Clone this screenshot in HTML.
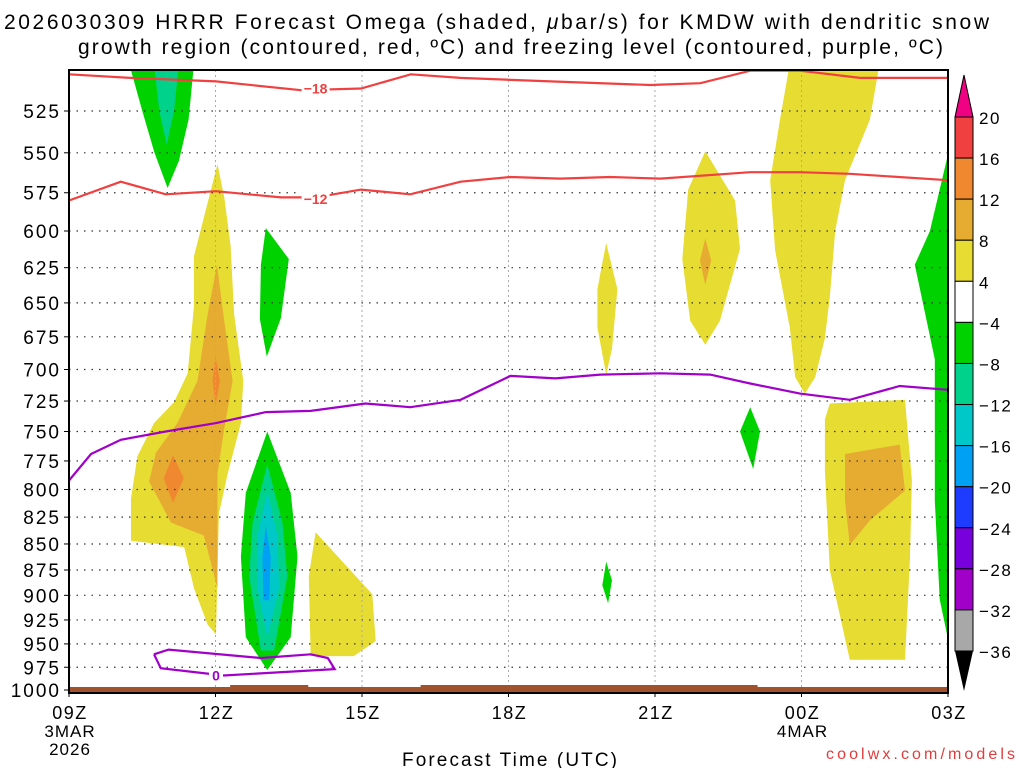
<!DOCTYPE html>
<html><head><meta charset="utf-8">
<style>
html,body{margin:0;padding:0;background:#fff;}
svg{display:block;font-family:"Liberation Sans",sans-serif;}
</style></head>
<body>
<svg id="chart" width="1024" height="768" viewBox="0 0 1024 768">
<text x="4" y="29" font-size="21" textLength="985" lengthAdjust="spacing">2026030309 HRRR Forecast Omega (shaded, <tspan font-style="italic">μ</tspan>bar/s) for KMDW with dendritic snow</text>
<text x="78" y="54" font-size="21" textLength="865" lengthAdjust="spacing">growth region (contoured, red, ºC) and freezing level (contoured, purple, ºC)</text>
<g id="shades"></g>
<g id="grid"></g>
<g id="contours"></g>
<g id="axes"></g>
<g id="cbar"></g>
<text x="402" y="766" font-size="19" textLength="215" lengthAdjust="spacing">Forecast Time (UTC)</text>
<text x="826" y="759" font-size="16" fill="#e03c3c" textLength="189" lengthAdjust="spacing">coolwx.com/models</text>
</svg>
<script>
// ---- data ----
const yTicks = [525,550,575,600,625,650,675,700,725,750,775,800,825,850,875,900,925,950,975,1000];
const xTickHours = [0,3,6,9,12,15,18];
const xTickLabels = ["09Z","12Z","15Z","18Z","21Z","00Z","03Z"];
const cbarLevels = [20,16,12,8,4,-4,-8,-12,-16,-20,-24,-28,-32,-36];
const cbarColors = ["#f04040","#f08830","#e6ac32","#e6dc32","#ffffff","#00d200","#00d28c","#00c8c8","#00a0f5","#1e3cff","#7800dc","#a000c8","#a8a8a8"];
const shadeColors = {y:"#e6dc32",o:"#e6ac32",r:"#f08830",g:"#00d200",t:"#00d28c",c:"#00c8c8",b:"#00a0f5"};
const blobTopGreen = [[1.23,498],[2.56,498],[2.45,530],[2.25,555],[2.02,572],[1.75,550],[1.5,525]];
const blobTopTeal = [[1.74,498],[2.25,498],[2.15,525],[2.0,545],[1.85,525]];
const blobYellowLeft = [[3.04,557],[3.18,578],[3.31,610],[3.38,658],[3.57,709],[3.52,743],[3.25,786],[3.07,822],[3.01,940],[2.84,930],[2.56,893],[2.36,853],[1.27,847],[1.27,808],[1.40,771],[1.74,743],[2.15,726],[2.43,703],[2.56,652],[2.56,617]];
const blobOrangeLeft = [[3.03,623],[3.16,658],[3.35,709],[3.17,750],[3.04,786],[3.04,893],[2.76,842],[2.09,830],[1.64,793],[1.78,768],[2.22,743],[2.63,709],[2.84,658]];
const blobRedA = [[1.94,790],[2.13,770],[2.35,790],[2.13,812]];
const blobRedB = [[3.0,690],[3.09,709],[3.0,728],[2.94,709]];
const blobGreenMid = [[4.03,598],[4.50,619],[4.34,661],[4.05,690],[3.91,662],[3.93,623]];
const blobGreenLow = [[4.06,750],[4.54,803],[4.68,862],[4.54,943],[4.06,978],[3.62,943],[3.52,862],[3.62,803]];
const blobTealLow = [[4.06,778],[4.37,830],[4.47,881],[4.2,957],[3.93,957],[3.69,881],[3.76,830]];
const blobCyanLow = [[4.06,802],[4.27,842],[4.3,893],[4.06,943],[3.86,893],[3.86,842]];
const blobBlueLow = [[4.03,832],[4.13,862],[4.1,905],[3.98,905],[3.96,862]];
const blobYellow14 = [[5.05,839],[6.21,899],[6.28,947],[5.83,963],[4.95,963],[4.91,881]];
const blobYellow20 = [[11.0,608],[11.23,640],[11.12,684],[11.0,704],[10.82,668],[10.82,640]];
const blobGreen20 = [[11.0,867],[11.12,885],[11.04,908],[10.92,890]];
const blobYellow22 = [[13.03,549],[13.64,580],[13.74,612],[13.33,663],[13.03,681],[12.72,663],[12.56,619],[12.68,573]];
const blobOrange22 = [[13.03,605],[13.15,620],[13.03,637],[12.92,620]];
const blobGreen23 = [[13.95,730],[14.15,750],[14.01,782],[13.74,750]];
const blobYellowRU = [[14.76,498],[16.6,498],[16.4,530],[15.89,567],[15.69,600],[15.58,646],[15.48,676],[15.28,706],[15.07,719],[14.87,706],[14.76,668],[14.46,613],[14.36,567],[14.56,530]];
const blobYellowRL = [[15.58,727],[17.12,724],[17.26,792],[17.22,865],[17.12,967],[15.99,967],[15.58,875],[15.48,783],[15.48,740]];
const blobOrangeRL = [[15.89,769],[17.01,761],[17.12,801],[16.4,828],[15.99,851],[15.89,810]];
const blobGreenRight = [[18,551],[17.63,600],[17.32,623],[17.73,692],[17.73,810],[17.83,904],[18,945]];
const shadeList = [["g",blobTopGreen],["t",blobTopTeal],["y",blobYellowLeft],["o",blobOrangeLeft],["r",blobRedA],["r",blobRedB],["g",blobGreenMid],["g",blobGreenLow],["t",blobTealLow],["c",blobCyanLow],["b",blobBlueLow],["y",blobYellow14],["y",blobYellow20],["g",blobGreen20],["y",blobYellow22],["o",blobOrange22],["g",blobGreen23],["y",blobYellowRU],["y",blobYellowRL],["o",blobOrangeRL],["g",blobGreenRight]];
const freezeHours = [0,0.45,1.06,1.98,3.01,4.03,4.95,6.07,6.99,8.02,9.04,9.96,10.88,12.11,13.13,13.95,14.97,15.99,17.01,18];
const freezePres = [792,769,757,750,743,734,733,727,730,724,705,707,704,703,704,711,719,724,713,716];
const loopHours = [1.74,2.04,3.93,4.95,5.30,5.44,3.17,1.88,1.74];
const loopPres = [961,956,965,961,965,977,984,976,961];
const m18Hours = [0,1.27,3.01,4.75,5.98,7.0,8.02,9.86,11.9,12.93,13.95,14.97,16.2,18];
const m18Pres = [504,506,508,513,512,504,506,508,510,509,502,502,506,506];
const m12Hours = [0,1.06,1.98,3.01,4.34,5.05,5.98,6.99,8.02,9.04,10.06,11.08,12.11,13.95,14.97,15.99,18];
const m12Pres = [580,568,576,574,578,578,573,576,568,565,566,565,566,562,562,563,567];

// ---- axes ----
const X0=69, X1=948, Y0=70, Y1=692;
const lnTop=Math.log(525), lnBot=Math.log(1000), yTop=111, yBot=690;
const xs = h => X0 + h*(X1-X0)/18;
const ys = p => yTop + (Math.log(p)-lnTop)/(lnBot-lnTop)*(yBot-yTop);
const NS="http://www.w3.org/2000/svg";
function mk(tag, attrs, parent){const e=document.createElementNS(NS,tag);for(const k in attrs)e.setAttribute(k,attrs[k]);parent.appendChild(e);return e;}
const clip = mk('clipPath',{id:'pc'},document.getElementById('chart'));
mk('rect',{x:X0,y:Y0,width:X1-X0,height:Y1-Y0},clip);

const shades=document.getElementById('shades');
shades.setAttribute('clip-path','url(#pc)');
shadeList.forEach(([c,pts])=>{
  const el=mk('polygon',{points:pts.map(q=>xs(q[0]).toFixed(1)+','+ys(q[1]).toFixed(1)).join(' '),fill:shadeColors[c]},shades);
  
  
});

const grid=document.getElementById('grid');
yTicks.forEach(p=>{ if(p<1000){
  const l=mk('line',{x1:X0,x2:X1,y1:ys(p),y2:ys(p),stroke:'#333','stroke-width':1.2,'stroke-dasharray':'1.5 6'},grid);
  
  
}});
xTickHours.forEach(h=>{ if(h>0&&h<18){
  const l=mk('line',{x1:xs(h),x2:xs(h),y1:Y0,y2:Y1,stroke:'#aaa','stroke-width':1,'stroke-dasharray':'2 3'},grid);
  
  
}});

const cont=document.getElementById('contours');
cont.setAttribute('clip-path','url(#pc)');
function line(hs,ps,color,name){
  const el=mk('polyline',{points:hs.map((h,i)=>xs(h).toFixed(1)+','+ys(ps[i]).toFixed(1)).join(' '),fill:'none',stroke:color,'stroke-width':2.2},cont);
  
  
}
line(m18Hours,m18Pres,'#f04040','contour-minus-18');
line(m12Hours,m12Pres,'#f04040','contour-minus-12');
line(freezeHours,freezePres,'#a000c8','freezing-level-contour');
line(loopHours,loopPres,'#a000c8','freezing-level-low-loop');
function clabel(h,p,txt,color,name){
  mk('rect',{x:xs(h)-14,y:ys(p)-8,width:28,height:15,fill:'#fff'},cont);
  const t=mk('text',{x:xs(h),y:ys(p)+5,'font-size':14,'font-weight':'bold',fill:color,'text-anchor':'middle'},cont);
  t.textContent=txt;
  
  
}
clabel(5.05,512,'−18','#f04040','contour-label-minus-18');
clabel(5.05,579,'−12','#f04040','contour-label-minus-12');
(function(){
  mk('rect',{x:xs(3.01)-7,y:ys(984)-7,width:14,height:14,fill:'#fff'},cont);
  const t=mk('text',{x:xs(3.01),y:ys(984)+5,'font-size':14,'font-weight':'bold',fill:'#a000c8','text-anchor':'middle'},cont);
  t.textContent='0';
  
  
})();

const axes=document.getElementById('axes');
mk('rect',{x:X0,y:687,width:X1-X0,height:6,fill:'#a0522d'},axes);
mk('rect',{x:xs(3.3),y:685,width:xs(4.9)-xs(3.3),height:3,fill:'#a0522d'},axes);
mk('rect',{x:xs(7.2),y:685,width:xs(14.1)-xs(7.2),height:3,fill:'#a0522d'},axes);
const fr=mk('rect',{x:X0,y:Y0,width:X1-X0,height:Y1-Y0+1,fill:'none',stroke:'#000','stroke-width':2},axes);


yTicks.forEach(p=>{
  const t=mk('text',{x:61,y:ys(p)+7,'font-size':19,'text-anchor':'end','letter-spacing':2},axes);
  t.textContent=p;
  
  
  mk('line',{x1:X0-5,x2:X0,y1:ys(p),y2:ys(p),stroke:'#000','stroke-width':1},axes);
});
xTickHours.forEach((h,i)=>{
  const t=mk('text',{x:xs(h)+1,y:719,'font-size':18,'text-anchor':'middle','letter-spacing':1.5},axes);
  t.textContent=xTickLabels[i];
  
  
  mk('line',{x1:xs(h),x2:xs(h),y1:Y1,y2:Y1+5,stroke:'#000','stroke-width':1},axes);
});
[['3MAR',0,737],['2026',0,755],['4MAR',15,737]].forEach(([s,h,y])=>{
  const t=mk('text',{x:xs(h)+1,y:y,'font-size':17,'text-anchor':'middle','letter-spacing':1},axes);
  t.textContent=s;
  
  
});

const cb=document.getElementById('cbar');
const CX0=955, CX1=973, CT=117, CB=651;
const step=(CB-CT)/(cbarLevels.length-1);
cbarColors.forEach((c,i)=>{
  const r=mk('rect',{x:CX0,y:CT+i*step,width:CX1-CX0,height:step,fill:c,stroke:'#000','stroke-width':1},cb);
  
  
});
mk('polygon',{points:`${CX0},${CT} ${CX1},${CT} ${(CX0+CX1)/2},${CT-42}`,fill:'#f00082',stroke:'#000','stroke-width':1},cb);
mk('polygon',{points:`${CX0},${CB} ${CX1},${CB} ${(CX0+CX1)/2},${CB+40}`,fill:'#000'},cb);
cbarLevels.forEach((v,i)=>{
  const t=mk('text',{x:979,y:CT+i*step+7,'font-size':17,'letter-spacing':1.5},cb);
  t.textContent=v<0?'−'+(-v):String(v);
  
  
});
</script>
</body></html>
